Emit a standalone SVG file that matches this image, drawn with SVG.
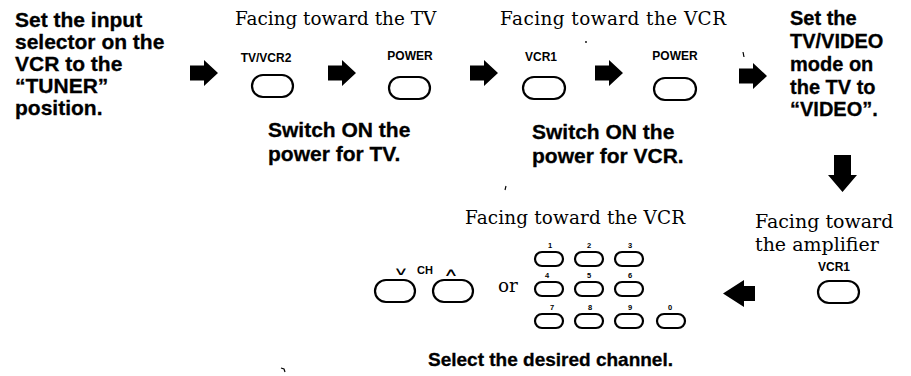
<svg xmlns="http://www.w3.org/2000/svg" width="911" height="376" viewBox="0 0 911 376">
<style>
.b{font-family:"Liberation Sans",Arial,sans-serif;font-weight:bold;font-size:21px;fill:#000;stroke:#000;stroke-width:0.3}
.r{font-size:20px}
.s{font-family:"DejaVu Serif","Liberation Serif",serif;font-size:18.4px;fill:#000}
.l{font-family:"Liberation Sans",Arial,sans-serif;font-weight:bold;font-size:12px;fill:#000;text-anchor:middle}
.n{font-family:"Liberation Sans",Arial,sans-serif;font-weight:bold;font-size:7.5px;fill:#000;text-anchor:middle}
.c{font-family:"DejaVu Sans",sans-serif;font-size:14px;fill:#000;text-anchor:middle}
.btn{fill:#fff;stroke:#000;stroke-width:2.2}
.arr{fill:#000}
</style>
<defs>
<path id="ar" d="M-14,-7.5 H0 V-13 L14,0 L0,13 V7.5 H-14 Z"/>
</defs>
<rect width="911" height="376" fill="#fff"/>

<g id="step1">
<text class="b" x="15" y="27">Set the input</text>
<text class="b" x="15" y="49">selector on the</text>
<text class="b" x="15" y="71">VCR to the</text>
<text class="b" x="15" y="93">“TUNER”</text>
<text class="b" x="15" y="115">position.</text>
</g>

<g id="step2">
<text class="s" x="235" y="25">Facing toward the TV</text>
<text class="l" x="266" y="62">TV/VCR2</text>
<rect class="btn" x="252" y="75" width="41" height="22" rx="11"/>
<text class="l" x="410" y="60">POWER</text>
<rect class="btn" x="389" y="77" width="41" height="22" rx="11"/>
<text class="b" x="268" y="137">Switch ON the</text>
<text class="b" x="268" y="161">power for TV.</text>
</g>

<g id="step3">
<text class="s" x="500" y="25" textLength="226">Facing toward the VCR</text>
<text class="l" x="541" y="61">VCR1</text>
<rect class="btn" x="523" y="77" width="42" height="22" rx="11"/>
<text class="l" x="675" y="60">POWER</text>
<rect class="btn" x="654" y="78" width="42" height="22" rx="11"/>
<text class="b" x="532" y="139">Switch ON the</text>
<text class="b" x="532" y="163">power for VCR.</text>
</g>

<g id="step4">
<text class="b r" x="790" y="25">Set the</text>
<text class="b r" x="790" y="48">TV/VIDEO</text>
<text class="b r" x="790" y="71">mode on</text>
<text class="b r" x="790" y="94">the TV to</text>
<text class="b r" x="790" y="116">“VIDEO”.</text>
</g>

<g id="step5">
<text class="s" x="755" y="228" style="font-size:19px">Facing toward</text>
<text class="s" x="755" y="251" style="font-size:19px">the amplifier</text>
<text class="l" x="834" y="271">VCR1</text>
<rect class="btn" x="818" y="281" width="41" height="22" rx="11"/>
</g>

<g id="step6">
<text class="s" x="465" y="224" textLength="220">Facing toward the VCR</text>
<text class="c" transform="translate(401,275) scale(1.5,0.8)">∨</text>
<text class="l" x="425" y="274" style="font-size:11px">CH</text>
<text class="c" transform="translate(451,276) scale(1.5,0.8)">∧</text>
<rect class="btn" x="375" y="280" width="40" height="22" rx="11"/>
<rect class="btn" x="433" y="280" width="40" height="22" rx="11"/>
<text class="s" x="498" y="292">or</text>
<g id="keypad">
<text class="n" x="550" y="248">1</text><text class="n" x="589" y="248">2</text><text class="n" x="630" y="248">3</text>
<rect class="btn" x="535" y="252" width="28" height="14" rx="7"/>
<rect class="btn" x="575" y="252" width="28" height="14" rx="7"/>
<rect class="btn" x="615" y="252" width="28" height="14" rx="7"/>
<text class="n" x="547" y="278">4</text><text class="n" x="589" y="278">5</text><text class="n" x="630" y="278">6</text>
<rect class="btn" x="535" y="282" width="28" height="14" rx="7"/>
<rect class="btn" x="575" y="282" width="28" height="14" rx="7"/>
<rect class="btn" x="615" y="282" width="28" height="14" rx="7"/>
<text class="n" x="552" y="310">7</text><text class="n" x="590" y="310">8</text><text class="n" x="630" y="310">9</text><text class="n" x="670" y="310">0</text>
<rect class="btn" x="535" y="314" width="28" height="14" rx="7"/>
<rect class="btn" x="575" y="314" width="28" height="14" rx="7"/>
<rect class="btn" x="615" y="314" width="28" height="14" rx="7"/>
<rect class="btn" x="657" y="314" width="28" height="14" rx="7"/>
</g>
<text class="b" x="428" y="366" style="font-size:19px">Select the desired channel.</text>
</g>

<g id="connectors" class="arr">
<use href="#ar" x="204" y="73"/>
<use href="#ar" x="342" y="73"/>
<use href="#ar" x="484" y="73"/>
<use href="#ar" x="609" y="73"/>
<use href="#ar" x="753" y="76"/>
<path d="M834,155 H851 V175 H857 L842.5,192 L828,175 H834 Z"/>
<path d="M755,286 H744 V280 L723,293.5 L744,307 V301 H755 Z"/>
</g>

<g id="marks" fill="none" stroke="#000" stroke-width="1.2">
<circle cx="586" cy="42" r="0.9" fill="#000" stroke="none"/>
<path d="M743,52 L744,57"/>
<path d="M506,186 L505,190"/>
<path d="M281,368 L284,369 L285,372"/>
</g>
</svg>
